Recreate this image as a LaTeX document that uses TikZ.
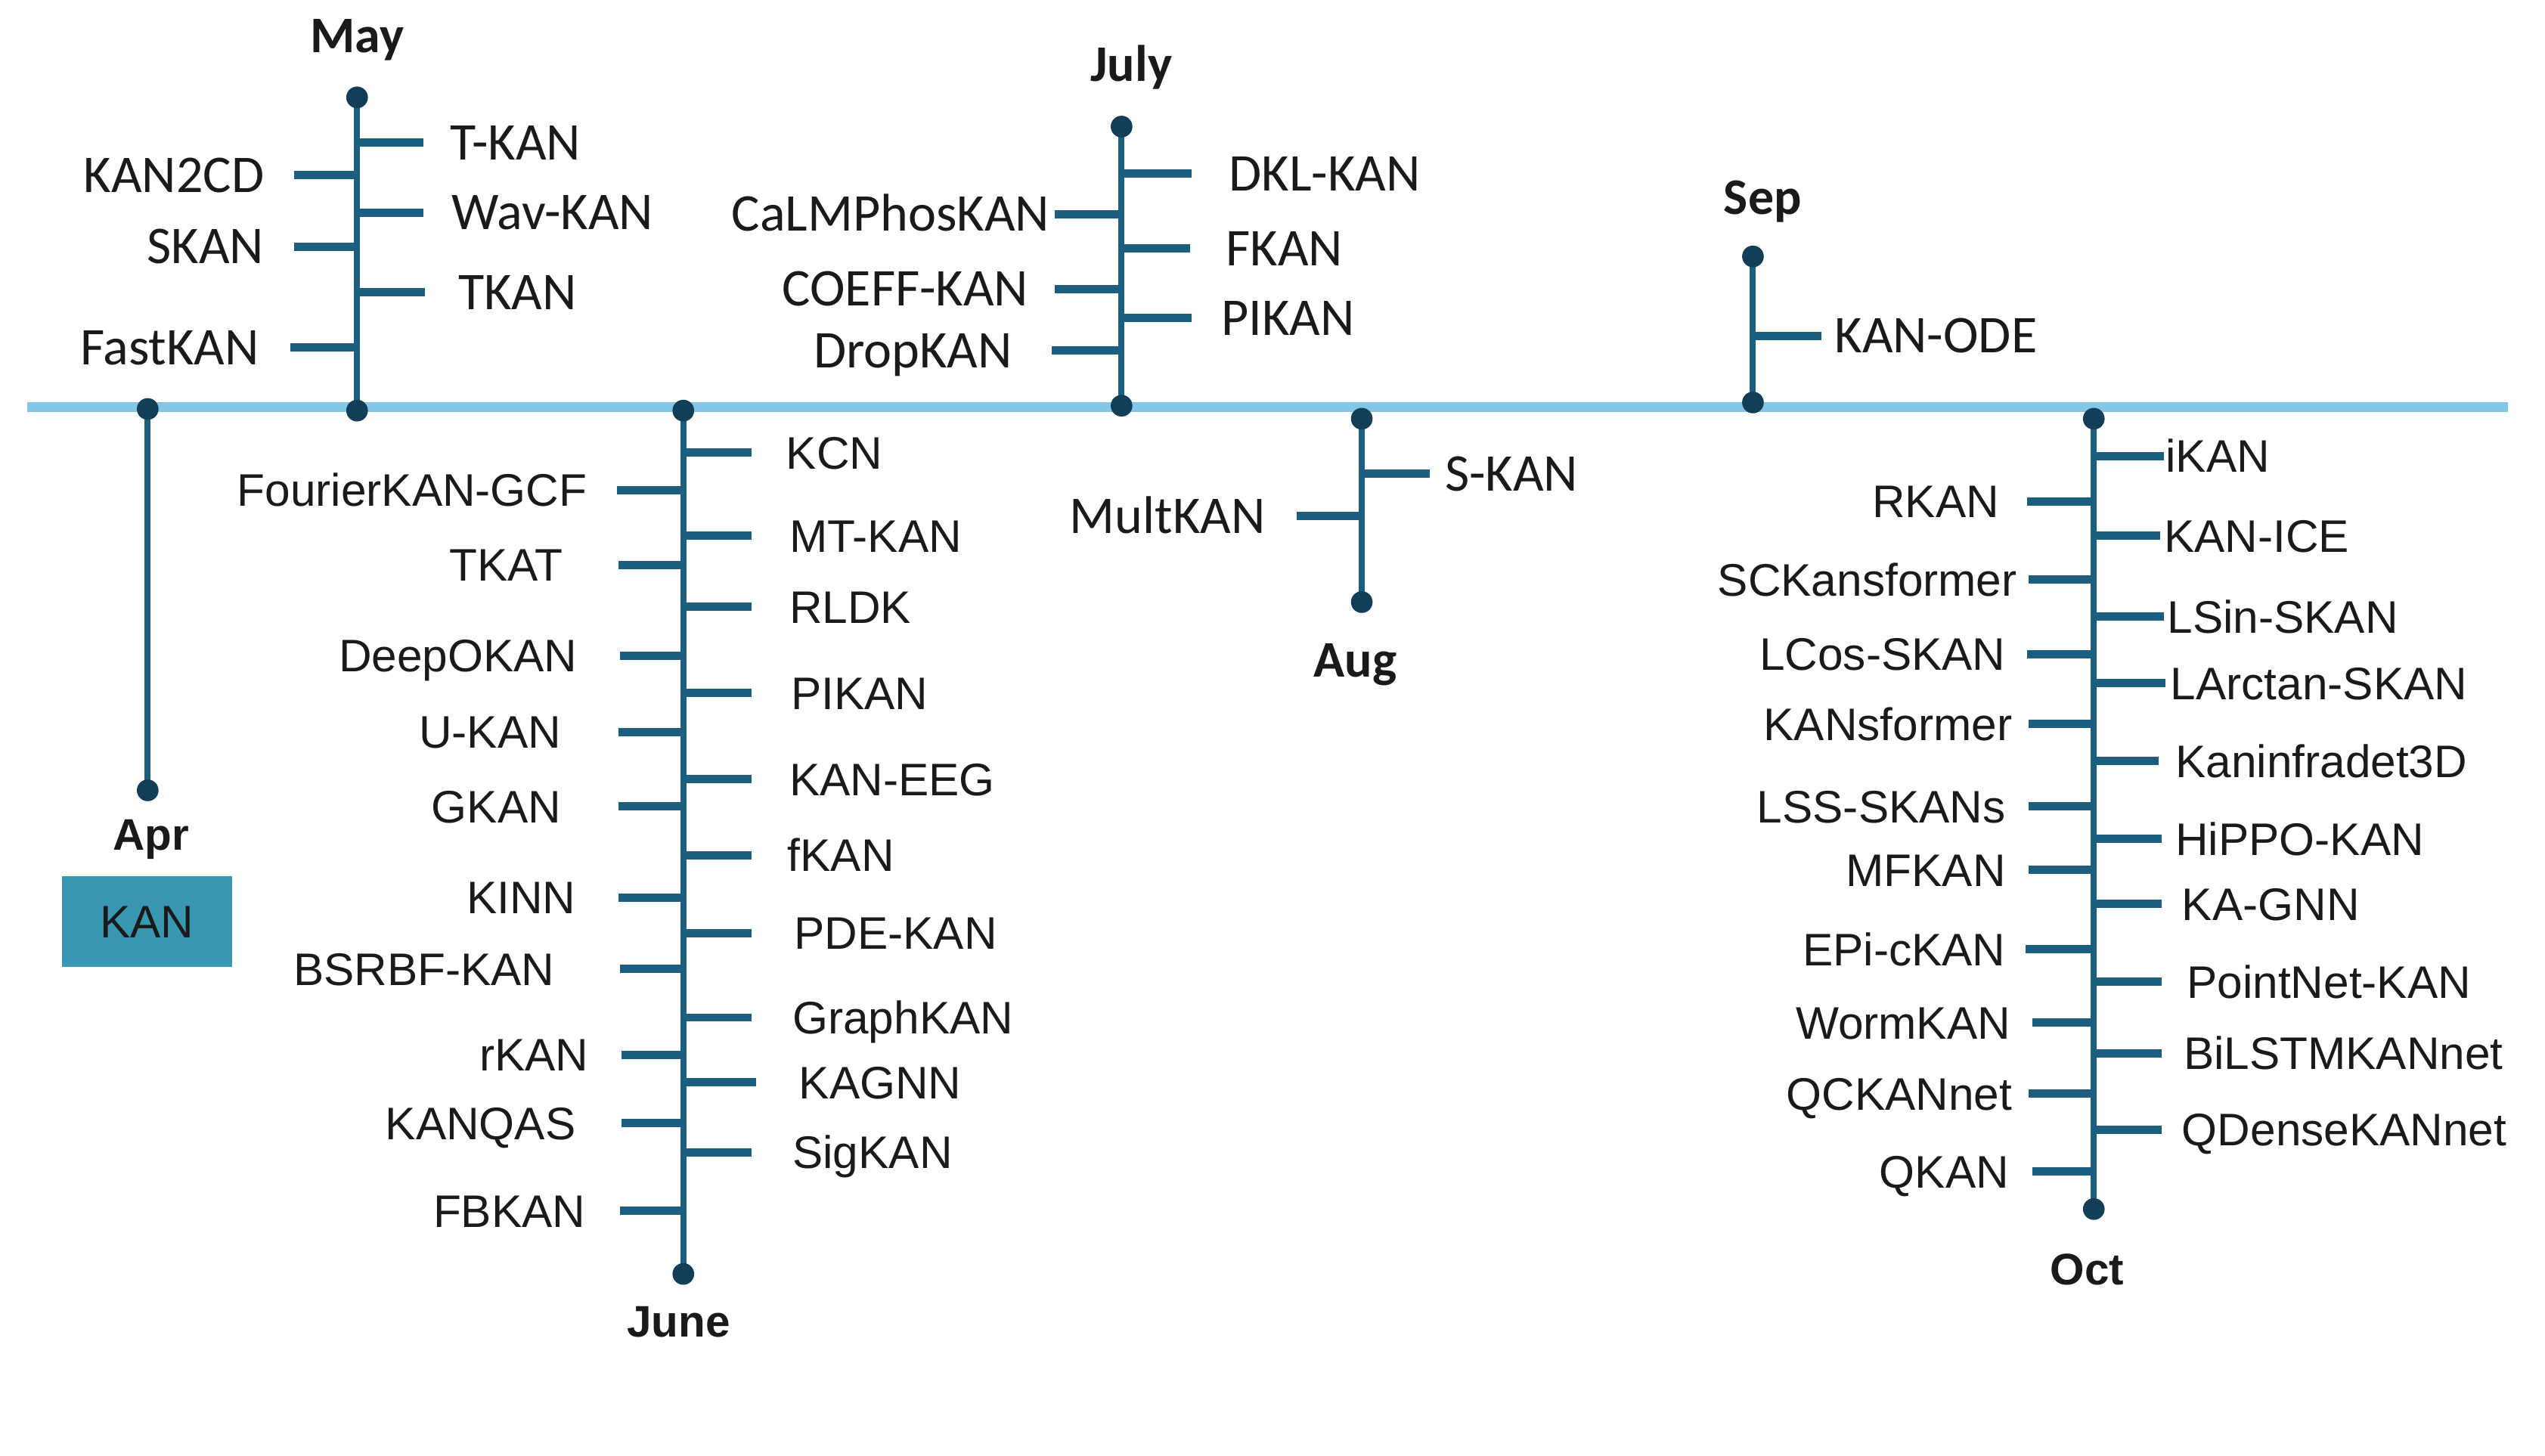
\documentclass[tikz,border=0pt]{standalone}
\usepackage{fontspec}
\setmainfont{Liberation Sans}
\newfontfamily\calfont{Carlito}
\definecolor{mainblue}{HTML}{85C6E6}
\definecolor{stemblue}{HTML}{1C5E80}
\definecolor{dotblue}{HTML}{123F57}
\definecolor{boxteal}{HTML}{3A97B1}
\definecolor{txt}{HTML}{1A1A1A}
\tikzset{
  mainline/.style={line width=3.4pt, color=mainblue},
  stemline/.style={line width=2.1pt, color=stemblue},
  tickbar/.style={line width=2.9pt, color=stemblue},
  dot/.style={circle, fill=dotblue, inner sep=0pt, minimum size=7.6pt},
  lab/.style={font=\fontsize{16}{18}\selectfont, text=txt, inner sep=0pt, text height=11.46pt, text depth=0pt},
  clab/.style={font=\calfont\fontsize{18.6}{20}\selectfont, text=txt, inner sep=0pt, text height=11.98pt, text depth=0pt},
  mon/.style={font=\bfseries\fontsize{15.5}{18}\selectfont, text=txt, inner sep=0pt, text height=11.1pt, text depth=0pt},
  cmon/.style={font=\calfont\bfseries\fontsize{18}{20}\selectfont, text=txt, inner sep=0pt, text height=11.6pt, text depth=0pt},
}
% left item: name, style, stem x, y, tick x, label right x, text
\newcommand\tickL[7]{%
  \coordinate (#1s) at (#3,#4);
  \coordinate (#1t) at (#5,#4);
  \node[#2, anchor=east] (#1) at (#6,#4) {#7};
  \draw[tickbar] (#1s) -- (#1t);
}
% right item: name, style, stem x, y, tick x, label left x, text
\newcommand\tickR[7]{%
  \coordinate (#1s) at (#3,#4);
  \coordinate (#1t) at (#5,#4);
  \node[#2, anchor=west] (#1) at (#6,#4) {#7};
  \draw[tickbar] (#1s) -- (#1t);
}
\begin{document}
\begin{tikzpicture}[x=0.02cm, y=-0.02cm]
\useasboundingbox (0,0) rectangle (1568,897);
\fill[white] (0,0) rectangle (1568,897);

% main timeline
\coordinate (mL) at (17,251);
\coordinate (mR) at (1545,251);
\draw[mainline] (mL) -- (mR);

% stems (drawn first) and end dots
\coordinate (aprTc) at (91,252);  \coordinate (aprBc) at (91,487);
\coordinate (mayTc) at (220,60);  \coordinate (mayBc) at (220,253);
\coordinate (junTc) at (421,253); \coordinate (junBc) at (421,785);
\coordinate (julTc) at (691,78);  \coordinate (julBc) at (691,250);
\coordinate (augTc) at (839,258); \coordinate (augBc) at (839,371);
\coordinate (sepTc) at (1080,158);\coordinate (sepBc) at (1080,248);
\coordinate (octTc) at (1290,258);\coordinate (octBc) at (1290,745);
\draw[stemline] (aprTc) -- (aprBc);
\draw[stemline] (mayTc) -- (mayBc);
\draw[stemline] (junTc) -- (junBc);
\draw[stemline] (julTc) -- (julBc);
\draw[stemline] (augTc) -- (augBc);
\draw[stemline] (sepTc) -- (sepBc);
\draw[stemline] (octTc) -- (octBc);

% month labels
\node[mon] (apr) at (93,514) {Apr};
\node[cmon] (may) at (220,22) {May};
\node[mon] (jun) at (418,814) {June};
\node[cmon] (jul) at (697,40) {July};
\node[cmon] (aug) at (835,407) {Aug};
\node[cmon] (sep) at (1086,122) {Sep};
\node[mon] (oct) at (1286,782) {Oct};

% KAN box
\node[fill=boxteal, minimum width=2.1cm, minimum height=1.12cm, inner sep=0pt,
      font=\fontsize{16}{18}\selectfont, text=txt] (kan) at (90.5,568) {KAN};

% May
\tickL{may1}{clab}{220}{108}{181}{163}{KAN2CD}
\tickL{may2}{clab}{220}{152}{181}{163}{SKAN}
\tickL{may3}{clab}{220}{214}{179}{160}{FastKAN}
\tickR{may4}{clab}{220}{88}{261}{277}{T-KAN}
\tickR{may5}{clab}{220}{131}{261}{278}{Wav-KAN}
\tickR{may6}{clab}{220}{180}{262}{282}{TKAN}

% July
\tickL{jul1}{clab}{691}{132}{650}{647}{CaLMPhosKAN}
\tickL{jul2}{clab}{691}{178}{650}{634}{COEFF-KAN}
\tickL{jul3}{clab}{691}{216}{648}{624}{DropKAN}
\tickR{jul4}{clab}{691}{107}{734}{757}{DKL-KAN}
\tickR{jul5}{clab}{691}{153}{733}{755}{FKAN}
\tickR{jul6}{clab}{691}{196}{734}{752}{PIKAN}

% Sep
\tickR{sep1}{clab}{1080}{207}{1122}{1130}{KAN-ODE}

% Aug
\tickL{aug1}{clab}{839}{318}{799}{780}{MultKAN}
\tickR{aug2}{clab}{839}{292}{881}{890}{S-KAN}

% June
\tickL{jun1}{lab}{421}{302}{380}{362}{FourierKAN-GCF}
\tickL{jun2}{lab}{421}{348}{381}{347}{TKAT}
\tickL{jun3}{lab}{421}{404}{382}{356}{DeepOKAN}
\tickL{jun4}{lab}{421}{451}{381}{346}{U-KAN}
\tickL{jun5}{lab}{421}{497}{381}{346}{GKAN}
\tickL{jun6}{lab}{421}{553}{381}{355}{KINN}
\tickL{jun7}{lab}{421}{597}{382}{342}{BSRBF-KAN}
\tickL{jun8}{lab}{421}{650}{383}{363}{rKAN}
\tickL{jun9}{lab}{421}{692}{383}{355}{KANQAS}
\tickL{jun10}{lab}{421}{746}{382}{361}{FBKAN}
\tickR{jun11}{lab}{421}{279}{463}{484}{KCN}
\tickR{jun12}{lab}{421}{330}{463}{486}{MT-KAN}
\tickR{jun13}{lab}{421}{374}{463}{486}{RLDK}
\tickR{jun14}{lab}{421}{427}{463}{487}{PIKAN}
\tickR{jun15}{lab}{421}{480}{463}{486}{KAN-EEG}
\tickR{jun16}{lab}{421}{527}{463}{485}{fKAN}
\tickR{jun17}{lab}{421}{575}{463}{489}{PDE-KAN}
\tickR{jun18}{lab}{421}{627}{463}{488}{GraphKAN}
\tickR{jun19}{lab}{421}{667}{466}{492}{KAGNN}
\tickR{jun20}{lab}{421}{710}{463}{488}{SigKAN}

% Oct
\tickL{oct1}{lab}{1290}{309}{1249}{1232}{RKAN}
\tickL{oct2}{lab}{1290}{357}{1250}{1243}{SCKansformer}
\tickL{oct3}{lab}{1290}{403}{1249}{1236}{LCos-SKAN}
\tickL{oct4}{lab}{1290}{446}{1250}{1240}{KANsformer}
\tickL{oct5}{lab}{1290}{497}{1250}{1236}{LSS-SKANs}
\tickL{oct6}{lab}{1290}{536}{1250}{1236}{MFKAN}
\tickL{oct7}{lab}{1290}{585}{1248}{1236}{EPi-cKAN}
\tickL{oct8}{lab}{1290}{630}{1252}{1239}{WormKAN}
\tickL{oct9}{lab}{1290}{674}{1250}{1240}{QCKANnet}
\tickL{oct10}{lab}{1290}{722}{1252}{1238}{QKAN}
\tickR{oct11}{lab}{1290}{281}{1333}{1334}{iKAN}
\tickR{oct12}{lab}{1290}{330}{1331}{1333}{KAN-ICE}
\tickR{oct13}{lab}{1290}{380}{1333}{1335}{LSin-SKAN}
\tickR{oct14}{lab}{1290}{421}{1334}{1337}{LArctan-SKAN}
\tickR{oct15}{lab}{1290}{469}{1330}{1340}{Kaninfradet3D}
\tickR{oct16}{lab}{1290}{517}{1332}{1340}{HiPPO-KAN}
\tickR{oct17}{lab}{1290}{557}{1332}{1344}{KA-GNN}
\tickR{oct18}{lab}{1290}{605}{1332}{1347}{PointNet-KAN}
\tickR{oct19}{lab}{1290}{649}{1332}{1345}{BiLSTMKANnet}
\tickR{oct20}{lab}{1290}{696}{1332}{1344}{QDenseKANnet}

% end dots on top
\node[dot] (aprT) at (aprTc) {};
\node[dot] (aprB) at (aprBc) {};
\node[dot] (mayT) at (mayTc) {};
\node[dot] (mayB) at (mayBc) {};
\node[dot] (junT) at (junTc) {};
\node[dot] (junB) at (junBc) {};
\node[dot] (julT) at (julTc) {};
\node[dot] (julB) at (julBc) {};
\node[dot] (augT) at (augTc) {};
\node[dot] (augB) at (augBc) {};
\node[dot] (sepT) at (sepTc) {};
\node[dot] (sepB) at (sepBc) {};
\node[dot] (octT) at (octTc) {};
\node[dot] (octB) at (octBc) {};
\end{tikzpicture}
\end{document}
